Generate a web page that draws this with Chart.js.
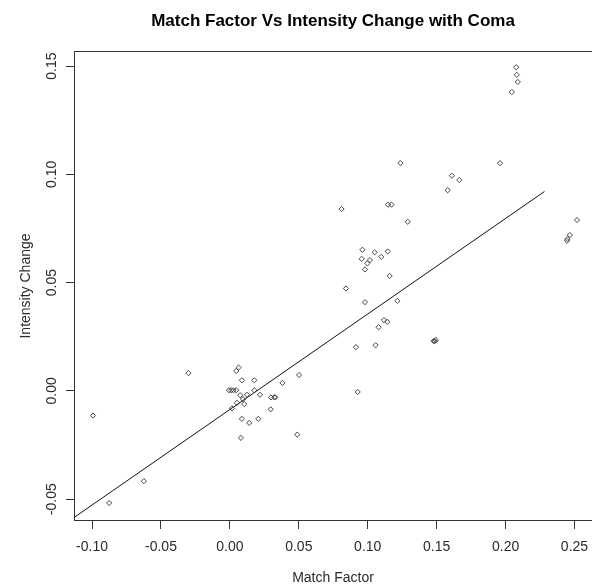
<!DOCTYPE html>
<html>
<head>
<meta charset="utf-8">
<script src="https://cdn.jsdelivr.net/npm/chart.js@4.4.1/dist/chart.umd.min.js"></script>
<style>
  html, body { margin: 0; padding: 0; background: #fff; }
  canvas { display: block; }
</style>
</head>
<body>
<canvas id="plot" width="592" height="588"></canvas>
<script>
// x and y of each observation
var matchFactor = [
    0.2077, 0.2081, 0.2089, 0.2045, 0.1237, 0.1960, 0.1610, 0.1664, 0.1580, 0.1147,
    0.1172, 0.0810, 0.1290, 0.2518, 0.2467, 0.2448, 0.2446, 0.0961, 0.1050, 0.1145,
    0.0956, 0.1098, 0.1016, 0.0997, 0.0980, 0.1159, 0.0842, 0.0980, 0.1215, 0.1118,
    0.1142, 0.1079, 0.0914, 0.1057, 0.1478, 0.1486, 0.1494, 0.0927, 0.0488, 0.0502,
    0.0381, 0.0298, 0.0322, 0.0330, 0.0296, 0.0218, 0.0177, 0.0177, 0.0087, 0.0063,
    0.0046, -0.0007, 0.0010, 0.0026, 0.0046, 0.0075, 0.0124, 0.0104, 0.0051, 0.0015,
    0.0087, 0.0140, 0.0206, 0.0080, 0.0095, -0.0993, -0.0876, -0.0624, -0.0301
];
var intensityChange = [
    0.1495, 0.1460, 0.1427, 0.1380, 0.1052, 0.1052, 0.0994, 0.0974, 0.0927, 0.0860,
    0.0860, 0.0840, 0.0781, 0.0789, 0.0720, 0.0702, 0.0693, 0.0652, 0.0640, 0.0644,
    0.0610, 0.0619, 0.0604, 0.0589, 0.0561, 0.0531, 0.0473, 0.0410, 0.0416, 0.0327,
    0.0319, 0.0294, 0.0202, 0.0211, 0.0230, 0.0230, 0.0235, -0.0005, -0.0202, 0.0073,
    0.0037, -0.0030, -0.0030, -0.0030, -0.0085, -0.0018, 0.0049, 0.0003, 0.0049, 0.0108,
    0.0092, 0.0003, 0.0003, 0.0003, 0.0003, -0.0020, -0.0018, -0.0061, -0.0055, -0.0081,
    -0.0129, -0.0148, -0.0129, -0.0217, -0.0038, -0.0114, -0.0518, -0.0417, 0.0082
];

// fitted line, start and end
var fitX = [-0.1131, 0.2282];
var fitY = [-0.0585, 0.0921];

var xTicks = [-0.10, -0.05, 0.00, 0.05, 0.10, 0.15, 0.20, 0.25];
var yTicks = [-0.05, 0.00, 0.05, 0.10, 0.15];

var FONT = "'Liberation Sans', Arial, Helvetica, sans-serif";
var INK = "#2a2a2a";

var points = matchFactor.map((x, i) => ({ x: x, y: intensityChange[i] }));
var fit = fitX.map((x, i) => ({ x: x, y: fitY[i] }));

// box round the plot region; its right side falls just past the canvas
var frame = {
    id: "frame",
    afterDatasetsDraw: (chart) => {
        var a = chart.chartArea;
        var ctx = chart.ctx;
        ctx.save();
        ctx.strokeStyle = "#333";
        ctx.lineWidth = 1;
        ctx.strokeRect(Math.round(a.left) + 0.5, Math.round(a.top) + 0.5,
            Math.round(a.right - a.left) + 2, Math.round(a.bottom - a.top) - 1);
        ctx.restore();
    }
};

var config = {
    type: "scatter",
    data: {
        datasets: [
            {
                label: "obs",
                data: points,
                pointStyle: "rectRot",
                pointRadius: 2.6,
                pointHoverRadius: 2.6,
                borderWidth: 0.9,
                borderColor: "#333",
                backgroundColor: "rgba(0,0,0,0)"
            },
            {
                type: "line",
                label: "fit",
                data: fit,
                borderColor: "#111",
                borderWidth: 1,
                pointRadius: 0,
                fill: false
            }
        ]
    },
    options: {
        responsive: false,
        animation: false,
        layout: { padding: 0, autoPadding: false },
        plugins: {
            legend: { display: false },
            tooltip: { enabled: false },
            title: {
                display: true,
                fullSize: false,
                text: "Match Factor Vs Intensity Change with Coma",
                color: "#000",
                font: { family: FONT, size: 17, weight: "bold" },
                padding: { top: 11, bottom: 19.6 }
            }
        },
        scales: {
            x: {
                type: "linear",
                min: -0.1131,
                max: 0.2627,
                afterBuildTicks: (s) => { s.ticks = xTicks.map((v) => ({ value: v })); },
                afterFit: (s) => { s.height = 67; s.paddingLeft = 0; s.paddingRight = 0; },
                border: { display: false },
                grid: { drawOnChartArea: false, drawTicks: true, tickLength: 8, color: "#333" },
                ticks: {
                    autoSkip: false,
                    maxRotation: 0,
                    padding: 10,
                    color: INK,
                    font: { family: FONT, size: 14 },
                    callback: (v) => Number(v).toFixed(2)
                },
                title: {
                    display: true,
                    text: "Match Factor",
                    color: INK,
                    font: { family: FONT, size: 14 },
                    padding: { top: 0, bottom: 1 }
                }
            },
            y: {
                type: "linear",
                min: -0.0601,
                max: 0.157,
                afterBuildTicks: (s) => { s.ticks = yTicks.map((v) => ({ value: v })); },
                afterFit: (s) => { s.width = 74; s.paddingTop = 0; s.paddingBottom = 0; },
                border: { display: false },
                grid: { drawOnChartArea: false, drawTicks: true, tickLength: 8, color: "#333" },
                ticks: {
                    autoSkip: false,
                    minRotation: 90,
                    maxRotation: 90,
                    crossAlign: "center",
                    padding: -2,
                    color: INK,
                    font: { family: FONT, size: 14 },
                    callback: (v) => Number(v).toFixed(2)
                },
                title: {
                    display: true,
                    text: "Intensity Change",
                    color: INK,
                    font: { family: FONT, size: 14 },
                    padding: { top: 18, bottom: 0 }
                }
            }
        }
    },
    plugins: [frame]
};

new Chart(document.getElementById("plot"), config);
</script>
</body>
</html>
